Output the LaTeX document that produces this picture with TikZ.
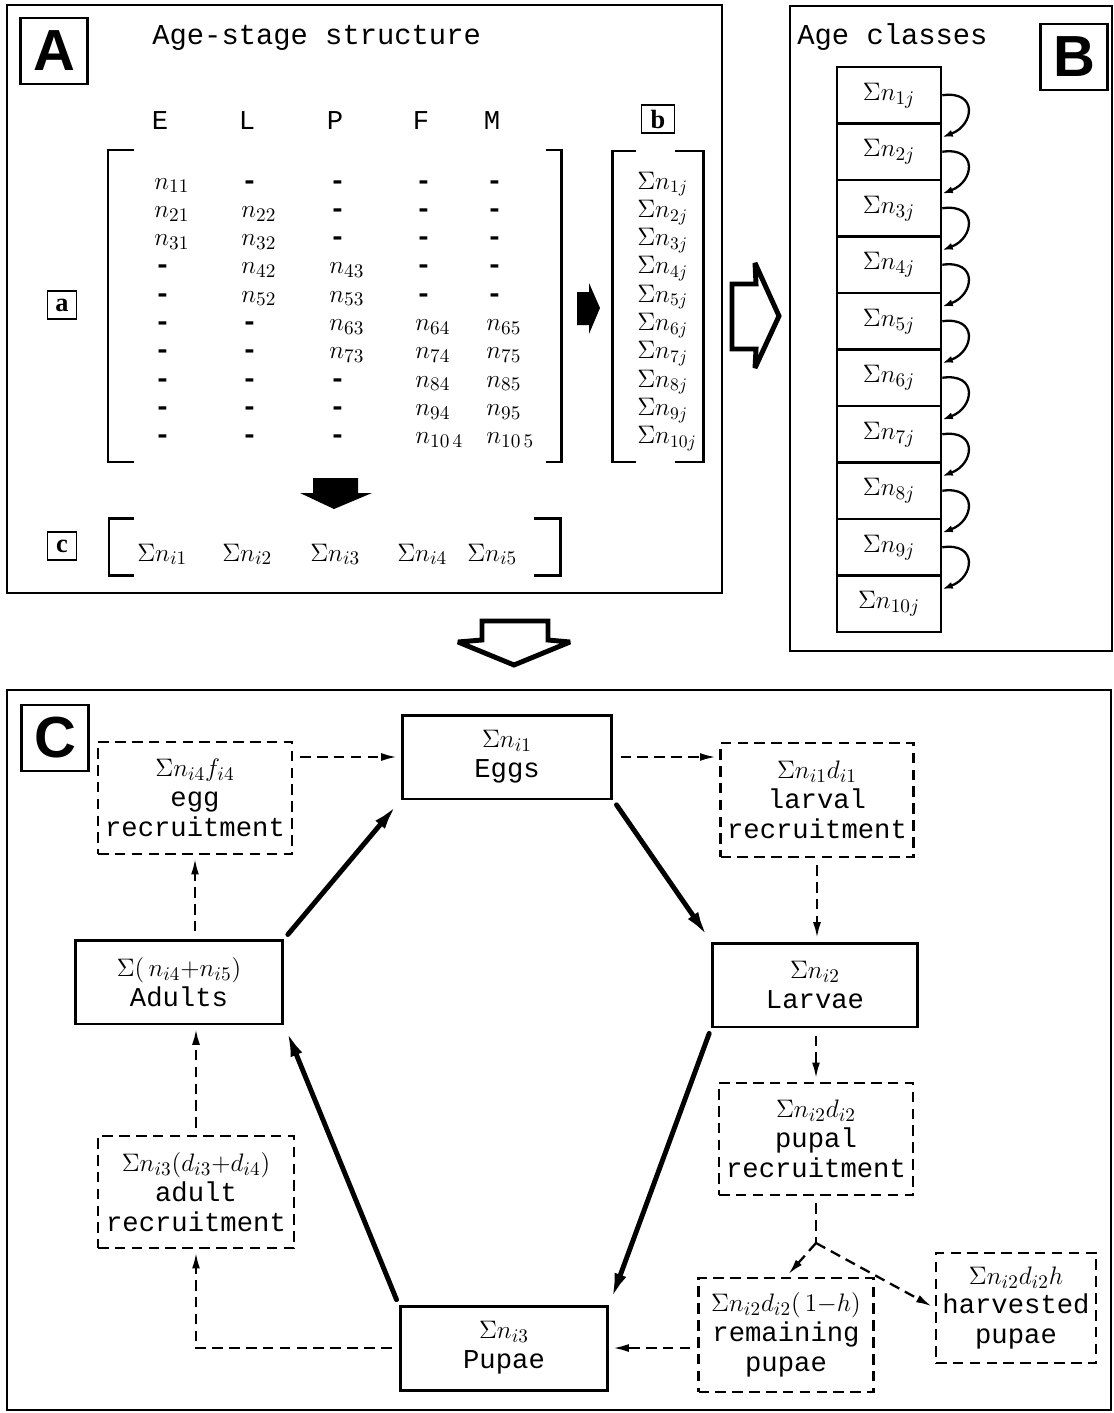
\documentclass[tikz,border=0pt]{standalone}
\usepackage{fontspec}
\setmainfont{Liberation Mono}
\setsansfont{Liberation Sans}
\newfontfamily\tagfont{Liberation Serif}
\usetikzlibrary{arrows.meta}

\newcommand\emptycell{\textbf{-}}

\tikzset{
  panel/.style={draw, line width=1.2pt, inner sep=0pt},
  bigtag/.style={draw, line width=1.3pt, minimum width=1.34cm, minimum height=1.32cm, inner sep=0pt,
    font=\sffamily\bfseries\fontsize{33}{33}\selectfont},
  smalltag/.style={draw, line width=1.1pt, minimum width=0.58cm, minimum height=0.56cm, inner sep=0pt,
    font=\tagfont\bfseries\fontsize{15}{15}\selectfont},
  cell/.style={anchor=base west, inner sep=0pt},
  colhead/.style={anchor=base, inner sep=0pt},
  bracket/.style={line width=1.7pt},
  agebox/.style={draw, line width=1.5pt, minimum width=2.08cm, minimum height=1.13cm, inner sep=0pt},
  stagebox/.style={draw, line width=1.7pt, minimum width=4.16cm, minimum height=1.68cm, align=center, inner sep=0pt},
  recbox/.style={draw, line width=1.3pt, dash pattern=on 6pt off 3.6pt, minimum width=3.88cm,
    minimum height=2.24cm, align=center, inner sep=0pt},
  flowline/.style={line width=1.3pt, dash pattern=on 6pt off 3.6pt},
  flow/.style={flowline, -{Latex[length=9pt,width=4.5pt]}, shorten <=4pt, shorten >=2pt},
  growth/.style={-{Latex[length=15pt,width=7pt]}, line width=2.8pt, line cap=round, shorten <=3pt, shorten >=3pt},
  ageloop/.style={-{Latex[length=6pt,width=4pt]}, line width=1.3pt},
  hollow/.style={line width=2.8pt, line join=miter, miter limit=4},
}

\begin{document}
\begin{tikzpicture}[x=0.02cm, y=-0.02cm, font=\fontsize{15.5}{17}\selectfont]
\useasboundingbox (0,0) rectangle (1113,1413);

% the three panels
\node[panel, minimum width=14.3cm, minimum height=11.76cm] (panelA) at (364.5,299) {};
\node[panel, minimum width=6.44cm, minimum height=12.9cm] (panelB) at (951,328.5) {};
\node[panel, minimum width=22.08cm, minimum height=14.4cm] (panelC) at (559,1050) {};

\node[bigtag] (tagA) at (54,51) {A};
\node[bigtag] (tagB) at (1074,57) {B};
\node[bigtag] (tagC) at (55,738) {C};

% panel A: age-stage matrix
\node[anchor=base west, inner sep=0pt, font=\fontsize{16.4}{17}\selectfont] (titleA) at (152,44) {Age-stage structure};
\foreach \h/\x in {E/160,L/247,P/335,F/421,M/492}
  \node[colhead] (h\h) at (\x,129) {\h};

\foreach \i/\a/\b/\c/\d/\e in {
    1/{$n_{11}$}/\emptycell/\emptycell/\emptycell/\emptycell,
    2/{$n_{21}$}/{$n_{22}$}/\emptycell/\emptycell/\emptycell,
    3/{$n_{31}$}/{$n_{32}$}/\emptycell/\emptycell/\emptycell,
    4/\emptycell/{$n_{42}$}/{$n_{43}$}/\emptycell/\emptycell,
    5/\emptycell/{$n_{52}$}/{$n_{53}$}/\emptycell/\emptycell,
    6/\emptycell/\emptycell/{$n_{63}$}/{$n_{64}$}/{$n_{65}$},
    7/\emptycell/\emptycell/{$n_{73}$}/{$n_{74}$}/{$n_{75}$},
    8/\emptycell/\emptycell/\emptycell/{$n_{84}$}/{$n_{85}$},
    9/\emptycell/\emptycell/\emptycell/{$n_{94}$}/{$n_{95}$},
    10/\emptycell/\emptycell/\emptycell/{$n_{10\,4}$}/{$n_{10\,5}$}}{
  \pgfmathsetmacro\yy{189+28.3*(\i-1)}
  \node[cell] (m\i-1) at (154,\yy) {\a};
  \node[cell] (m\i-2) at (241,\yy) {\b};
  \node[cell] (m\i-3) at (329,\yy) {\c};
  \node[cell] (m\i-4) at (415,\yy) {\d};
  \node[cell] (m\i-5) at (486,\yy) {\e};
  \node[cell, font=\fontsize{14.5}{15}\selectfont] (b\i) at (637,\yy) {$\Sigma n_{\i j}$};
}
\draw[bracket] (134,150) -- (108,150) -- (108,462) -- (134,462);
\draw[bracket] (546,150) -- (561,150) -- (561,462) -- (546,462);
\draw[bracket] (636,151) -- (612,151) -- (612,462) -- (636,462);
\draw[bracket] (675,151) -- (703,151) -- (703,462) -- (675,462);

\node[smalltag] (taga) at (62,305) {a};
\node[smalltag, minimum width=0.66cm] (tagb) at (658,119) {b};
\node[smalltag] (tagc) at (62,546) {c};

% column sums
\foreach \k/\x in {1/137,2/222,3/310,4/397,5/467}
  \node[cell] (c\k) at (\x,561) {$\Sigma n_{i\k}$};
\draw[bracket] (134,518) -- (109,518) -- (109,575) -- (134,575);
\draw[bracket] (534,518) -- (560,518) -- (560,575) -- (534,575);

\fill (577,292) -- (589,292) -- (589,283) -- (600,308) -- (589,334) -- (589,325) -- (577,325) -- cycle;
\fill (313,478) -- (358,478) -- (358,493) -- (372,493) -- (334,509) -- (300,493) -- (313,493) -- cycle;

% hollow arrows between panels
\draw[hollow] (732,284) -- (756,284) -- (755,263) -- (779,316) -- (755,368) -- (756,349) -- (732,349) -- cycle;
\draw[hollow] (482,621) -- (548,621) -- (548,640) -- (570,642) -- (514,665) -- (458,642) -- (482,640) -- cycle;

% panel B: age classes
\node[anchor=base west, inner sep=0pt, font=\fontsize{16.4}{17}\selectfont] (titleB) at (797,44) {Age classes};
\foreach \k in {1,...,10}{
  \pgfmathsetmacro\yy{67+56.5*(\k-0.5)}
  \node[agebox] (age\k) at (889,\yy) {$\Sigma n_{\k j}$};
}
\foreach \k [evaluate=\k as \j using int(\k+1)] in {1,...,9}
  \draw[ageloop] (age\k.east) .. controls +(36,-5) and +(32,-12) .. ([yshift=-8.5pt]age\j.north east);

% panel C: stage model
\node[stagebox, minimum width=4.2cm] (eggs) at (507,757) {$\Sigma n_{i1}$\\Eggs};
\node[stagebox, minimum width=4.1cm] (larvae) at (815,985) {$\Sigma n_{i2}$\\Larvae};
\node[stagebox] (adults) at (179,982) {$\Sigma(\,n_{i4}{+}n_{i5})$\\Adults};
\node[stagebox] (pupae) at (504,1348) {$\Sigma n_{i3}$\\Pupae};

\node[recbox] (eggrec) at (195,798) {$\Sigma n_{i4}f_{i4}$\\egg\\recruitment};
\node[recbox, minimum width=3.86cm, minimum height=2.28cm] (larvrec) at (817,800) {$\Sigma n_{i1}d_{i1}$\\larval\\recruitment};
\node[recbox] (puprec) at (816,1139) {$\Sigma n_{i2}d_{i2}$\\pupal\\recruitment};
\node[recbox, minimum width=3.92cm] (adultrec) at (196,1192) {$\Sigma n_{i3}(d_{i3}{+}d_{i4})$\\adult\\recruitment};
\node[recbox, minimum width=3.5cm, minimum height=2.28cm] (rempup) at (786,1335) {$\Sigma n_{i2}d_{i2}(\,1{-}h)$\\remaining\\pupae};
\node[recbox, minimum width=3.2cm, minimum height=2.2cm] (harvpup) at (1016,1308) {$\Sigma n_{i2}d_{i2}h$\\harvested\\pupae};
\coordinate (split) at (816,1243);

\draw[flow] (eggrec.east |- eggs.west) -- (eggs.west);
\draw[flow] (eggs.east) -- (eggs.east -| larvrec.west);
\draw[flow] (larvrec.south) -- (larvrec.south |- larvae.north);
\draw[flow] (puprec.north |- larvae.south) -- (puprec.north);
\draw[flowline, shorten <=4pt] (puprec.south) -- (split);
\draw[flow, shorten <=0pt] (split) -- (rempup.north);
\draw[flow, shorten <=0pt] (split) -- (harvpup.west);
\draw[flow] (rempup.west |- pupae.east) -- (pupae.east);
\draw[flow] (pupae.west) -| (adultrec.south);
\draw[flow] (adultrec.north) -- (adultrec.north |- adults.south);
\draw[flow] (eggrec.south |- adults.north) -- (eggrec.south);

\draw[growth] (adults.north east) -- (eggs.south west);
\draw[growth] (eggs.south east) -- (larvae.north west);
\draw[growth] (larvae.south west) -- (pupae.north east);
\draw[growth] (pupae.north west) -- (adults.south east);
\end{tikzpicture}
\end{document}
